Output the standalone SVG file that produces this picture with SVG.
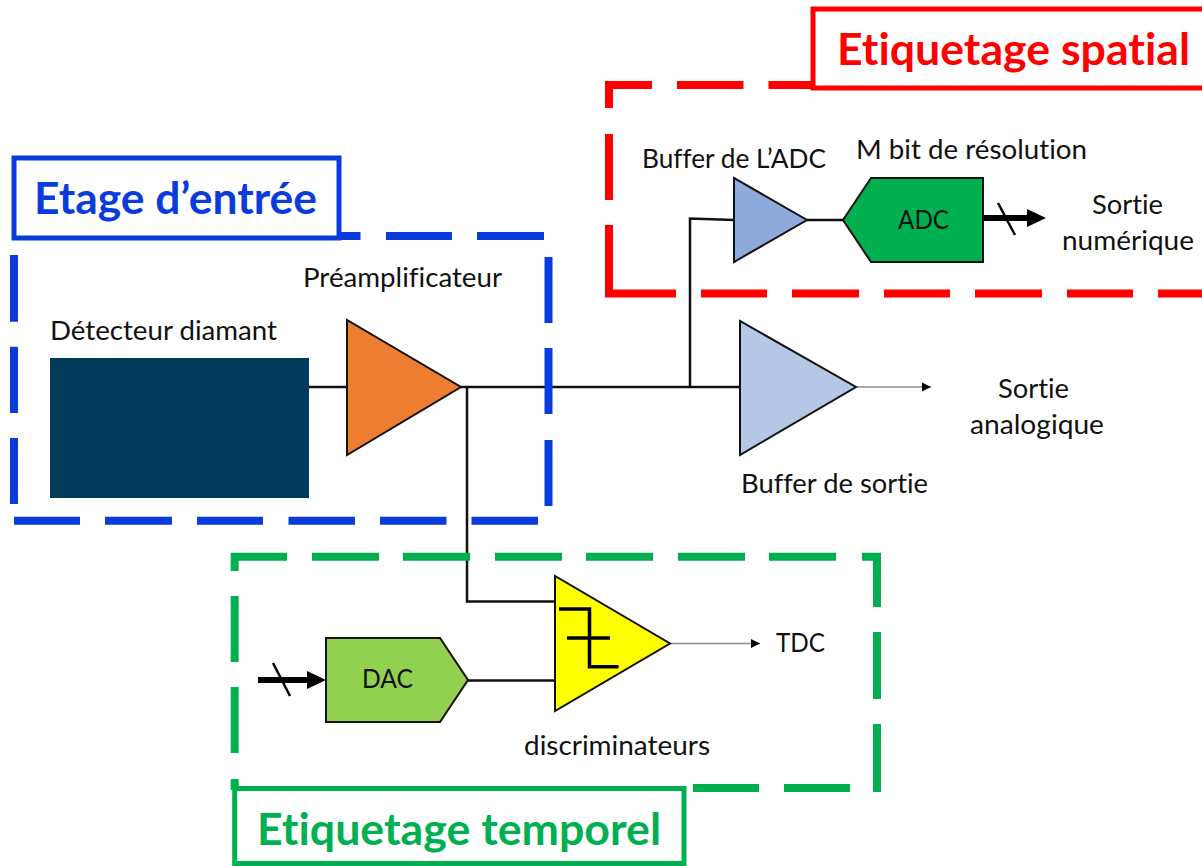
<svg xmlns="http://www.w3.org/2000/svg" width="1202" height="866" viewBox="0 0 1202 866">
<style>
text{font-family:Lato,"Liberation Sans",sans-serif;font-size:26.5px;fill:#111;font-variant-ligatures:none}
.t{font-weight:700;font-size:43px}
.w{fill:none;stroke:#111;stroke-width:2.5}
.g{fill:none;stroke:#8c8c8c;stroke-width:1.5}
.n{stroke:#111;stroke-width:2}
.d{fill:none;stroke-width:8}
.b{fill:#fff;stroke-width:5}
.th{fill:none;stroke:#000;stroke-width:6}
.sl{fill:none;stroke:#000;stroke-width:2.5}
</style>
<defs>
<marker id="thin" markerUnits="userSpaceOnUse" markerWidth="10" markerHeight="10" refX="9" refY="5" orient="auto"><path d="M0 .5L9 5L0 9.5Z" fill="#000"/></marker>
</defs>
<g id="connectors">
<path class="w" d="M309 387H347M461 387H740M690 387V218.5L734 220M807 220H843M467 387V601.5H555M468 680.5H555"/>
<path class="g" d="M857 387H931" marker-end="url(#thin)"/>
<path class="g" d="M670 643.5H760" marker-end="url(#thin)"/>
<path class="th" d="M983 218H1030"/>
<path d="M1027 209L1046 218L1027 227Z" fill="#000"/>
<path class="sl" d="M998 203L1015 235"/>
<path class="th" d="M258 680H310"/>
<path d="M307 671L326 680L307 689Z" fill="#000"/>
<path class="sl" d="M273 663L290 696"/>
</g>
<g id="group-spatial">
<path class="d" stroke="#ff0000" d="M609 293.5V225M609 200V134M609 108V85" />
<path class="d" stroke="#ff0000" d="M605 85H652M677 85H743.5M768.5 85H813"/>
<path class="d" stroke="#ff0000" d="M605 293.5H676M701 293.5H767M792 293.5H859M884 293.5H950M975 293.5H1042M1067 293.5H1133M1158 293.5H1202"/>
<path class="b" stroke="#ff0000" d="M1202 9H813V88H1202"/>
<text class="t" x="837" y="65" style="fill:#ff0000" textLength="353" lengthAdjust="spacingAndGlyphs">Etiquetage spatial</text>
</g>
<g id="group-entree">
<path class="d" stroke="#0a3cdc" d="M14 255V321.7M14 346.7V413M14 438V504"/>
<path class="d" stroke="#0a3cdc" d="M548.5 257V323M548.5 348V414M548.5 440V506"/>
<path class="d" stroke="#0a3cdc" d="M341 236H360.5M386 236H452M477 236H544"/>
<path class="d" stroke="#0a3cdc" d="M14 520.7H80M105 520.7H172M197 520.7H263M288.5 520.7H355M380 520.7H446.5M471.5 520.7H538"/>
<rect class="b" stroke="#0a3cdc" x="14" y="158" width="325" height="80"/>
<text class="t" x="34" y="214" style="fill:#0a3cdc" textLength="283" lengthAdjust="spacingAndGlyphs">Etage d’entrée</text>
</g>
<g id="group-temporel">
<path class="d" stroke="#00b050" d="M231 556.7H287M312 556.7H379M403 556.7H470M495 556.7H562M586 556.7H653M678 556.7H745M769 556.7H836M862 556.7H881"/>
<path class="d" stroke="#00b050" d="M234.7 553V571M234.7 596V662M234.7 687V753M234.7 779V790"/>
<path class="d" stroke="#00b050" d="M877 553V607M877 632V699M877 724V792"/>
<path class="d" stroke="#00b050" d="M693 788H759M784 788H850M875 788H881"/>
<path class="b" stroke="#00b050" d="M234.7 866V788.5H684V866M234.7 863.5H684"/>
<text class="t" x="257" y="845" style="fill:#00b050" textLength="404" lengthAdjust="spacingAndGlyphs">Etiquetage temporel</text>
</g>
<g id="detecteur">
<rect x="50" y="358" width="259" height="140" fill="#023a5c"/>
<text x="50" y="340" textLength="227" lengthAdjust="spacingAndGlyphs">Détecteur diamant</text>
</g>
<g id="preamplificateur">
<path class="n" d="M347 320V455L461 387Z" fill="#ed7d31"/>
<text x="303" y="287" textLength="199" lengthAdjust="spacingAndGlyphs">Préamplificateur</text>
</g>
<g id="buffer-sortie">
<path class="n" d="M740 321V455L856 387Z" fill="#b4c7e7"/>
<text x="741" y="493" textLength="187" lengthAdjust="spacingAndGlyphs">Buffer de sortie</text>
</g>
<g id="sortie-analogique">
<text x="998" y="398" textLength="71" lengthAdjust="spacingAndGlyphs">Sortie</text>
<text x="970" y="434" textLength="134" lengthAdjust="spacingAndGlyphs">analogique</text>
</g>
<g id="buffer-adc">
<path class="n" d="M734 178V262L807 220Z" fill="#8faadc"/>
<text x="642" y="168" textLength="184" lengthAdjust="spacingAndGlyphs">Buffer de L’ADC</text>
</g>
<g id="adc">
<path class="n" d="M843 220L871 178H983V262H871Z" fill="#00b050"/>
<text x="898" y="229" textLength="51" lengthAdjust="spacingAndGlyphs">ADC</text>
<text x="856" y="159" textLength="231" lengthAdjust="spacingAndGlyphs">M bit de résolution</text>
</g>
<g id="sortie-numerique">
<text x="1092" y="214" textLength="71" lengthAdjust="spacingAndGlyphs">Sortie</text>
<text x="1062" y="250" textLength="132" lengthAdjust="spacingAndGlyphs">numérique</text>
</g>
<g id="dac">
<path class="n" d="M326 638H440L468 680L440 722H326Z" fill="#92d050"/>
<text x="362" y="688" textLength="51" lengthAdjust="spacingAndGlyphs">DAC</text>
</g>
<g id="discriminateur">
<path class="n" d="M555 576V711L670 643.5Z" fill="#ffff00"/>
<path d="M559 609H589.5V666.7H618.5M567 638H610" fill="none" stroke="#000" stroke-width="3.5"/>
<text x="524" y="755" textLength="186" lengthAdjust="spacingAndGlyphs">discriminateurs</text>
</g>
<g id="tdc">
<text x="776" y="652" textLength="49" lengthAdjust="spacingAndGlyphs">TDC</text>
</g>
</svg>
